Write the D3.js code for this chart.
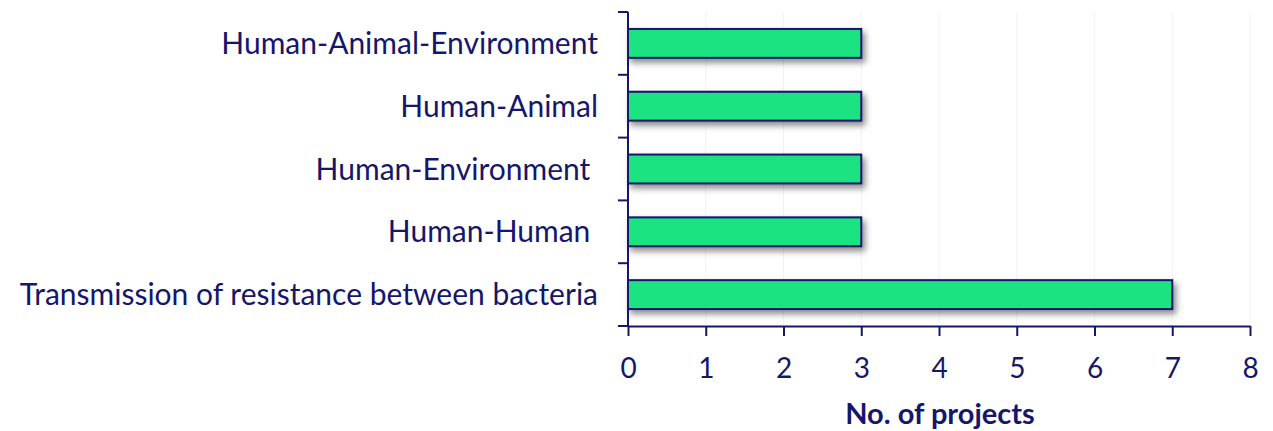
<!DOCTYPE html>
<html>
  <head>
    <style>
      body { margin: 0; padding: 0; overflow: hidden; background: #fff; }
      svg { display: block; }
      text { font-family: Lato, "Open Sans", sans-serif; fill: #16166b; white-space: pre; }
    </style>
    <script src="https://unpkg.com/d3@7.1.1/dist/d3.min.js"></script>
  </head>
  <body>
    <svg></svg>
    <script>
      const width = 1273;
      const height = 431;
      const svg = d3.select('svg').attr('width', width).attr('height', height);

      // datos
      const categories = [
        'Human-Animal-Environment',
        'Human-Animal',
        'Human-Environment ',
        'Human-Human ',
        'Transmission of resistance between bacteria'
      ];
      const projects = [3, 3, 3, 3, 7];
      const xTicks = [0, 1, 2, 3, 4, 5, 6, 7, 8];
      const xTitle = 'No. of projects';

      const navy = '#16166b';
      const margin = { left: 628, right: 23, top: 12, bottom: 105 };

      const x = d3.scaleLinear().domain([0, 8]).range([margin.left, width - margin.right]);
      const y = d3.scaleBand().domain(categories).range([margin.top, height - margin.bottom]).paddingInner(0.54).paddingOuter(0.27);

      // sombra
      const defs = svg.append('defs');
      const f = defs.append('filter').attr('id', 'sh').attr('x', '-5%').attr('y', '-30%').attr('width', '115%').attr('height', '190%');
      f.append('feDropShadow').attr('dx', 3).attr('dy', 4).attr('stdDeviation', 3).attr('flood-color', '#000').attr('flood-opacity', 0.45);

      // líneas de cuadrícula muy tenues
      svg.append('g')
        .selectAll('line')
        .data(xTicks.slice(1))
        .enter()
        .append('line')
        .attr('x1', d => x(d)).attr('x2', d => x(d))
        .attr('y1', margin.top).attr('y2', height - margin.bottom)
        .attr('stroke', '#f2f2f6').attr('stroke-width', 1);

      svg.append('g')
        .selectAll('rect')
        .data(projects)
        .enter()
        .append('rect')
        .attr('x', x(0))
        .attr('y', (d, i) => y(categories[i]))
        .attr('width', d => x(d) - x(0))
        .attr('height', y.bandwidth())
        .attr('fill', '#1de382')
        .attr('stroke', navy)
        .attr('stroke-width', 2)
        .attr('filter', 'url(#sh)');

      // eje x
      const xAxis = svg.append('g')
        .attr('transform', `translate(0,${height - margin.bottom})`)
        .call(d3.axisBottom(x).tickValues(xTicks).tickSize(10).tickSizeOuter(0).tickPadding(22));
      xAxis.select('.domain').attr('stroke', navy).attr('stroke-width', 2);
      xAxis.selectAll('.tick line').attr('stroke', navy).attr('stroke-width', 2);
      xAxis.selectAll('.tick text').style('font-size', '28px').attr('fill', navy).style('font-family', 'Lato, sans-serif');

      // eje y
      const yEdges = d3.range(categories.length + 1).map(i => margin.top + i * (height - margin.bottom - margin.top) / categories.length);
      svg.append('line')
        .attr('x1', x(0)).attr('x2', x(0))
        .attr('y1', margin.top).attr('y2', height - margin.bottom)
        .attr('stroke', navy).attr('stroke-width', 2);
      svg.append('g')
        .selectAll('line')
        .data(yEdges)
        .enter()
        .append('line')
        .attr('x1', x(0) - 10).attr('x2', x(0))
        .attr('y1', d => d).attr('y2', d => d)
        .attr('stroke', navy).attr('stroke-width', 2);

      svg.append('g')
        .selectAll('text')
        .data(categories)
        .enter()
        .append('text')
        .attr('x', 598)
        .attr('y', d => y(d) + y.bandwidth() / 2)
        .attr('dy', '0.35em')
        .attr('text-anchor', 'end')
        .style('font-size', '30px')
        .text(d => d);

      svg.append('text')
        .attr('x', 940)
        .attr('y', 424)
        .attr('text-anchor', 'middle')
        .style('font-size', '29px')
        .style('font-weight', 'bold')
        .text(xTitle);
    </script>
  </body>
</html>
